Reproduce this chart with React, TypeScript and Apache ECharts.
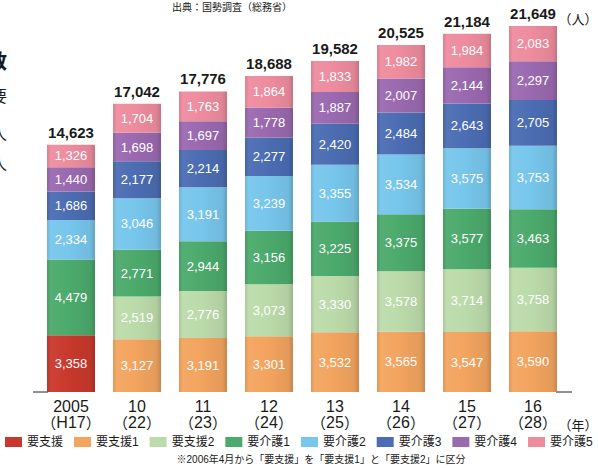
import React, { useEffect, useRef } from "react";
import * as echarts from "echarts";

const categories = ["2005|H17", "10|22", "11|23", "12|24", "13|25", "14|26", "15|27", "16|28"];
const seriesNames = ["要支援", "要支援1", "要支援2", "要介護1", "要介護2", "要介護3", "要介護4", "要介護5"];
const youShien = [3358, null, null, null, null, null, null, null];
const youShien1 = [null, 3127, 3191, 3301, 3532, 3565, 3547, 3590];
const youShien2 = [null, 2519, 2776, 3073, 3330, 3578, 3714, 3758];
const youKaigo1 = [4479, 2771, 2944, 3156, 3225, 3375, 3577, 3463];
const youKaigo2 = [2334, 3046, 3191, 3239, 3355, 3534, 3575, 3753];
const youKaigo3 = [1686, 2177, 2214, 2277, 2420, 2484, 2643, 2705];
const youKaigo4 = [1440, 1698, 1697, 1778, 1887, 2007, 2144, 2297];
const youKaigo5 = [1326, 1704, 1763, 1864, 1833, 1982, 1984, 2083];
const colors = ["#c9382c", "#f3a45f", "#bcdbaa", "#4caa6c", "#77c6ec", "#4c6db3", "#9a69b0", "#ee8c9e"];

const seriesData = [youShien, youShien1, youShien2, youKaigo1, youKaigo2, youKaigo3, youKaigo4, youKaigo5];
const totals = categories.map((_, i) => seriesData.reduce((s, arr) => s + (arr[i] || 0), 0));

const fmt = (v: number) => v.toLocaleString("en-US");
const FONT = "'Liberation Sans', 'Noto Sans CJK JP', sans-serif";
const CJK = "'Noto Sans CJK JP', sans-serif";

function shade(hex: string, amt: number) {
  const n = parseInt(hex.slice(1), 16);
  const r = (n >> 16) & 255, g = (n >> 8) & 255, b = n & 255;
  const f = (c: number) => Math.max(0, Math.min(255, Math.round(amt < 0 ? c * (1 + amt) : c + (255 - c) * amt)));
  return `rgb(${f(r)},${f(g)},${f(b)})`;
}

function grad(c: string) {
  return new echarts.graphic.LinearGradient(0, 0, 1, 0, [
    { offset: 0, color: shade(c, -0.08) },
    { offset: 0.08, color: shade(c, 0.05) },
    { offset: 0.45, color: c },
    { offset: 0.9, color: shade(c, -0.06) },
    { offset: 1, color: shade(c, -0.18) },
  ]);
}

export default function App() {
  const ref = useRef<HTMLDivElement>(null);
  useEffect(() => {
    if (!ref.current) return;
    const chart = echarts.init(ref.current, undefined, { renderer: "svg" });
    const series: any[] = seriesNames.map((name, k) => ({
      name,
      type: "bar",
      stack: "total",
      barWidth: 48,
      data: seriesData[k],
      itemStyle: { color: grad(colors[k]) },
      label: {
        show: true,
        position: "inside",
        color: "#ffffff",
        fontSize: 13,
        fontFamily: FONT,
        formatter: (p: any) => (p.value ? fmt(p.value) : ""),
      },
    }));
    series.push({
      name: "合計",
      type: "bar",
      stack: "total",
      barWidth: 48,
      data: totals.map(() => 0),
      itemStyle: { color: "transparent" },
      label: {
        show: true,
        position: "top",
        distance: 5,
        color: "#1a1a1a",
        fontSize: 15,
        fontWeight: "bold",
        fontFamily: FONT,
        formatter: (p: any) => fmt(totals[p.dataIndex]),
      },
    });
    chart.setOption({
      animation: false,
      grid: { left: 38, right: 32, top: 20, bottom: 76 },
      legend: {
        data: seriesNames.map((n, k) => ({ name: n, itemStyle: { color: colors[k] } })),
        left: 5,
        top: 436,
        padding: 0,
        width: 598,
        icon: "rect",
        itemWidth: 17,
        itemHeight: 10,
        itemGap: 11,
        textStyle: { fontSize: 12, color: "#1a1a1a", fontFamily: FONT },
      },
      xAxis: {
        type: "category",
        data: categories,
        axisLine: { show: false },
        axisTick: { show: false },
        axisLabel: {
          fontSize: 16,
          color: "#1a1a1a",
          lineHeight: 16,
          margin: 6,
          fontFamily: FONT,
          interval: 0,
          formatter: (v: string) => {
            const [a, b] = v.split("|");
            return `${a}\n{p|（}${b}{p|）}`;
          },
          rich: { p: { fontFamily: CJK, fontSize: 15, color: "#1a1a1a", lineHeight: 16 } },
        },
      },
      yAxis: { type: "value", min: 0, max: 22000, show: false, splitLine: { show: false } },
      series,
      graphic: [
        { type: "line", shape: { x1: 33, y1: 392, x2: 48, y2: 392 }, style: { stroke: "#222", lineWidth: 1 } },
        { type: "line", shape: { x1: 556, y1: 392, x2: 572, y2: 392 }, style: { stroke: "#222", lineWidth: 1 } },
        { type: "text", x: 232, y: 6, style: { text: "出典：国勢調査（総務省）", fontSize: 10, fill: "#1a1a1a", fontFamily: CJK, textAlign: "center", textVerticalAlign: "middle" } },
        { type: "text", x: 578, y: 18, style: { text: "（人）", fontSize: 13, fill: "#1a1a1a", fontFamily: CJK, textAlign: "center", textVerticalAlign: "middle" } },
        { type: "text", x: 578, y: 424, style: { text: "（年）", fontSize: 13, fill: "#1a1a1a", fontFamily: CJK, textAlign: "center", textVerticalAlign: "middle" } },
        { type: "text", x: 321, y: 459, style: { text: "※2006年4月から「要支援」を「要支援1」と「要支援2」に区分", fontSize: 10, fill: "#1a1a1a", fontFamily: FONT, textAlign: "center", textVerticalAlign: "middle" } },
        { type: "text", x: 7, y: 60, style: { text: "数", fontSize: 20, fontWeight: "bold", fill: "#1a1a1a", fontFamily: CJK, textAlign: "right", textVerticalAlign: "middle" } },
        { type: "text", x: 7, y: 95, style: { text: "要", fontSize: 16, fill: "#1a1a1a", fontFamily: CJK, textAlign: "right", textVerticalAlign: "middle" } },
        { type: "text", x: 7, y: 133, style: { text: "人", fontSize: 16, fill: "#1a1a1a", fontFamily: CJK, textAlign: "right", textVerticalAlign: "middle" } },
        { type: "text", x: 7, y: 163, style: { text: "人", fontSize: 16, fill: "#1a1a1a", fontFamily: CJK, textAlign: "right", textVerticalAlign: "middle" } },
      ],
    });
    return () => chart.dispose();
  }, []);
  return <div ref={ref} style={{ width: 598, height: 468, position: "absolute", left: 0, top: 0, background: "#fff" }} />;
}
